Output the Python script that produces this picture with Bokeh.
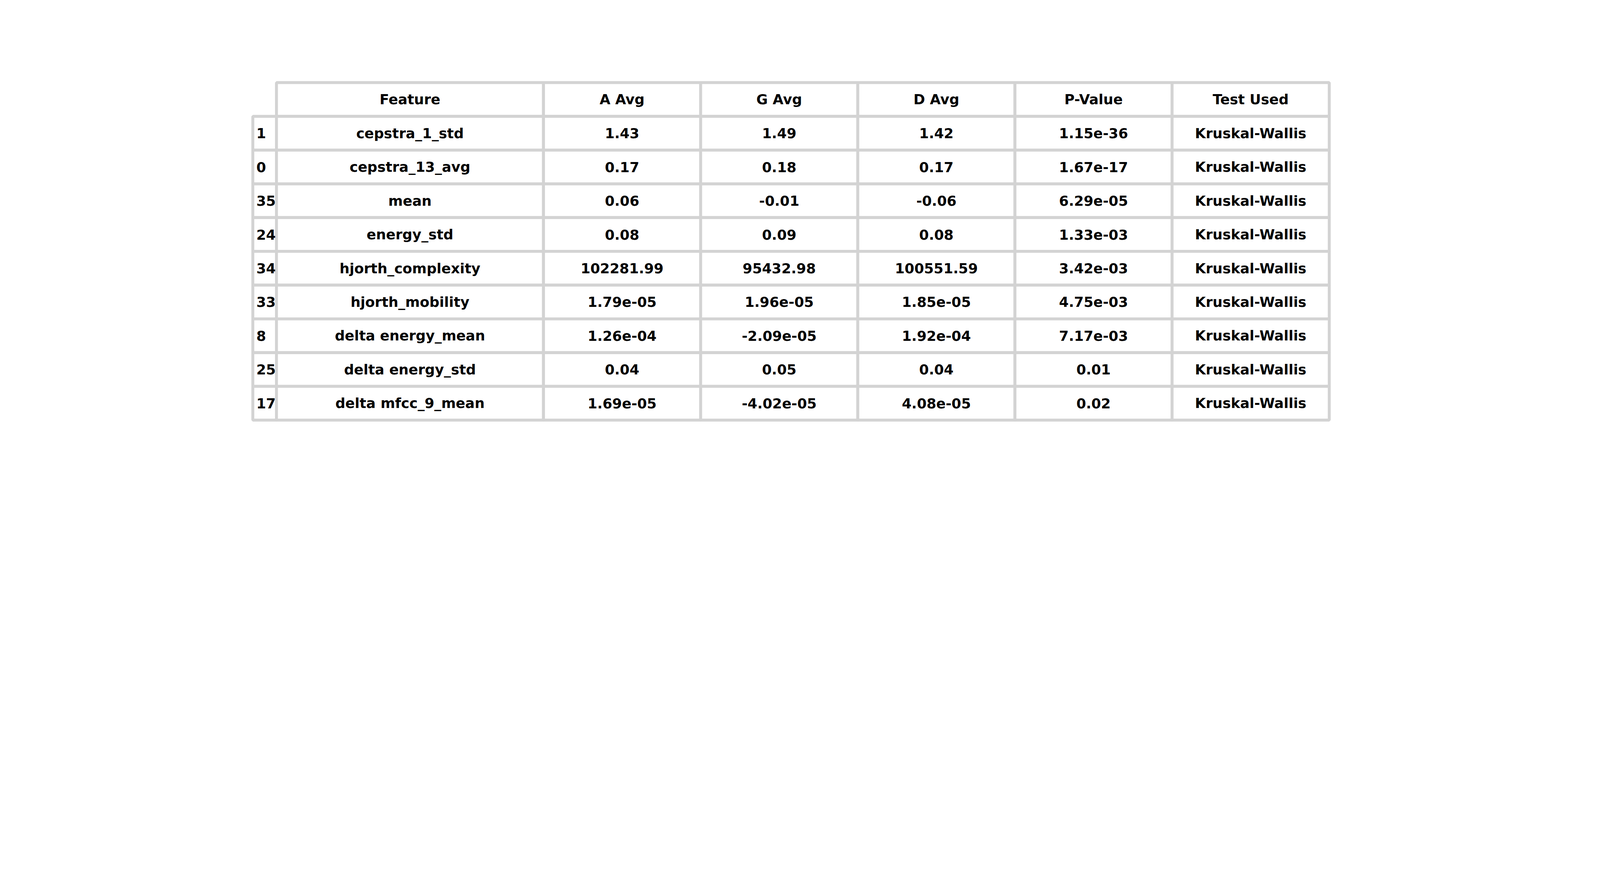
from bokeh.plotting import figure
from bokeh.models import Range1d, ColumnDataSource
from bokeh.core.properties import value
from bokeh.embed import file_html
from bokeh.resources import INLINE

# table data
columns = ["Feature", "A Avg", "G Avg", "D Avg", "P-Value", "Test Used"]
index = ["1", "0", "35", "24", "34", "33", "8", "25", "17"]
feature = ["cepstra_1_std", "cepstra_13_avg", "mean", "energy_std", "hjorth_complexity",
           "hjorth_mobility", "delta energy_mean", "delta energy_std", "delta mfcc_9_mean"]
a_avg = ["1.43", "0.17", "0.06", "0.08", "102281.99", "1.79e-05", "1.26e-04", "0.04", "1.69e-05"]
g_avg = ["1.49", "0.18", "-0.01", "0.09", "95432.98", "1.96e-05", "-2.09e-05", "0.05", "-4.02e-05"]
d_avg = ["1.42", "0.17", "-0.06", "0.08", "100551.59", "1.85e-05", "1.92e-04", "0.04", "4.08e-05"]
p_value = ["1.15e-36", "1.67e-17", "6.29e-05", "1.33e-03", "3.42e-03", "4.75e-03", "7.17e-03", "0.01", "0.02"]
test_used = ["Kruskal-Wallis"] * 9

# page pixels are scaled by the screenshot; work in screenshot px and convert
s = 1.735
W, H = int(7154 / s) - 16, int(2259 / s) - 16
def cx(v):
    return v / s - 8

edges = [cx(v) for v in [1136, 1241, 2427, 3125, 3823, 4521, 5219, 5917]]
top, rh = cx(380), 150 / s

p = figure(width=W, height=H, output_backend="svg", toolbar_location=None,
           x_range=Range1d(0, W), y_range=Range1d(H, 0), min_border=0)
p.axis.visible = False
p.grid.visible = False
p.outline_line_color = None

cols = [feature, a_avg, g_avg, d_avg, p_value, test_used]
l, r, t, b, txt, tx, ty, al = [], [], [], [], [], [], [], []
for j, name in enumerate(columns):
    x0, x1 = edges[j + 1], edges[j + 2]
    l.append(x0); r.append(x1); t.append(top); b.append(top + rh)
    txt.append(name); tx.append((x0 + x1) / 2); ty.append(top + rh / 2); al.append("center")
for i in range(len(index)):
    y0 = top + rh * (i + 1)
    l.append(edges[0]); r.append(edges[1]); t.append(y0); b.append(y0 + rh)
    txt.append(index[i]); tx.append(edges[0] + 9); ty.append(y0 + rh / 2); al.append("left")
    for j, c in enumerate(cols):
        x0, x1 = edges[j + 1], edges[j + 2]
        l.append(x0); r.append(x1); t.append(y0); b.append(y0 + rh)
        txt.append(c[i]); tx.append((x0 + x1) / 2); ty.append(y0 + rh / 2); al.append("center")

p.quad(left=l, right=r, top=t, bottom=b, fill_color="white",
       line_color="#d3d3d3", line_width=13 / s)
src = ColumnDataSource(dict(x=tx, y=ty, text=txt, align=al))
p.text(x="x", y="y", text="text", text_align="align", source=src,
       text_baseline="middle", text_font=value("DejaVu Sans"),
       text_font_style="bold", text_font_size="%.1fpx" % (62 / s), text_color="black")

open("out.html", "w").write(file_html(p, INLINE))
